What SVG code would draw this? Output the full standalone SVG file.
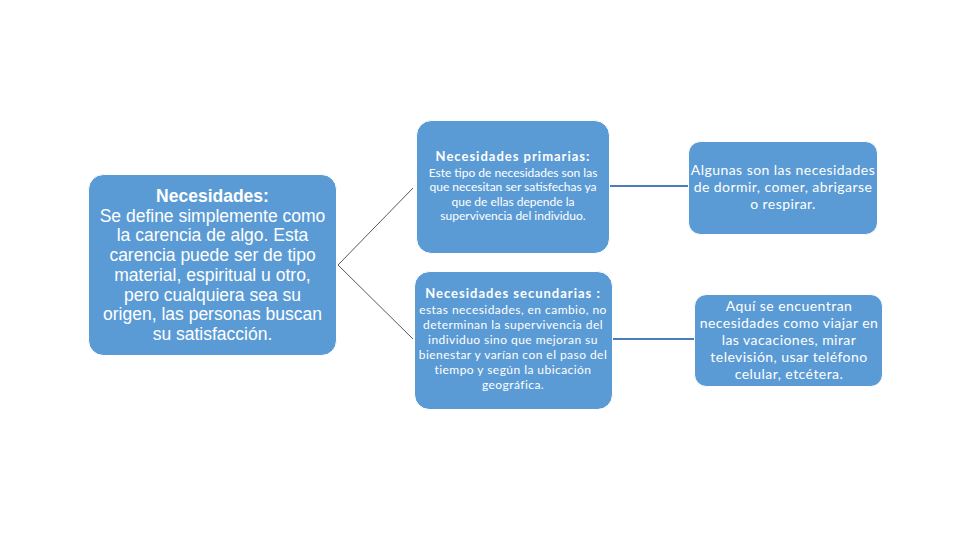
<svg xmlns="http://www.w3.org/2000/svg" width="960" height="540" viewBox="0 0 960 540">
<style>
.box{fill:#5B9BD5;stroke:#FFFFFF;stroke-width:1}
.t{fill:#FFFFFF;text-anchor:middle}
.a{font-family:"Liberation Sans",Arial,sans-serif;font-size:17.5px}
.c{font-family:Lato,"Open Sans",sans-serif}
.h{font-size:13px;font-weight:bold;letter-spacing:1px}
.s{font-size:12px}
.s2{font-size:12px;letter-spacing:0.45px}
.r{font-size:14px;letter-spacing:0.45px}
.diag{stroke:#595959;stroke-width:1;fill:none}
.hor{stroke:#4A7EBB;stroke-width:2;fill:none}
</style>
<rect width="960" height="540" fill="#FFFFFF"/>
<g id="connectors">
<polyline class="diag" points="413,188 338,265 413,339"/>
<line class="hor" x1="609" y1="186" x2="688" y2="186"/>
<line class="hor" x1="612" y1="339" x2="694" y2="339"/>
</g>
<g id="node-necesidades">
<rect class="box" x="88.5" y="174.5" width="248" height="181" rx="15"/>
<text class="t a"><tspan x="212.5" y="202" font-weight="bold">Necesidades:</tspan><tspan x="212.5" y="221.7">Se define simplemente como</tspan><tspan x="212.5" y="241.4">la carencia de algo. Esta</tspan><tspan x="212.5" y="261.1">carencia puede ser de tipo</tspan><tspan x="212.5" y="280.8">material, espiritual u otro,</tspan><tspan x="212.5" y="300.5">pero cualquiera sea su</tspan><tspan x="212.5" y="320.2">origen, las personas buscan</tspan><tspan x="212.5" y="339.9">su satisfacción.</tspan></text>
</g>
<g id="node-primarias">
<rect class="box" x="416.5" y="120.5" width="193" height="133" rx="15"/>
<text class="t c"><tspan class="h" x="513" y="161">Necesidades primarias:</tspan><tspan class="s" x="513" y="176.5">Este tipo de necesidades son las</tspan><tspan class="s" x="513" y="191">que necesitan ser satisfechas ya</tspan><tspan class="s" x="513" y="205.5">que de ellas depende la</tspan><tspan class="s" x="513" y="220">supervivencia del individuo.</tspan></text>
</g>
<g id="node-secundarias">
<rect class="box" x="414.5" y="271.5" width="198" height="138" rx="15"/>
<text class="t c"><tspan class="h" x="513" y="298">Necesidades secundarias :</tspan><tspan class="s2" x="513" y="313.5">estas necesidades, en cambio, no</tspan><tspan class="s2" x="513" y="328.5">determinan la supervivencia del</tspan><tspan class="s2" x="513" y="343.5">individuo sino que mejoran su</tspan><tspan class="s2" x="513" y="358.5">bienestar y varían con el paso del</tspan><tspan class="s2" x="513" y="373.5">tiempo y según la ubicación</tspan><tspan class="s2" x="513" y="388.5">geográfica.</tspan></text>
</g>
<g id="node-ejemplos-primarias">
<rect class="box" x="688.5" y="141.5" width="189" height="93" rx="12"/>
<text class="t c r"><tspan x="783" y="175">Algunas son las necesidades</tspan><tspan x="783" y="192">de dormir, comer, abrigarse</tspan><tspan x="783" y="209">o respirar.</tspan></text>
</g>
<g id="node-ejemplos-secundarias">
<rect class="box" x="694.5" y="294.5" width="188" height="92" rx="12"/>
<text class="t c r"><tspan x="789" y="311">Aquí se encuentran</tspan><tspan x="789" y="328">necesidades como viajar en</tspan><tspan x="789" y="345">las vacaciones, mirar</tspan><tspan x="789" y="362">televisión, usar teléfono</tspan><tspan x="789" y="379">celular, etcétera.</tspan></text>
</g>
</svg>
